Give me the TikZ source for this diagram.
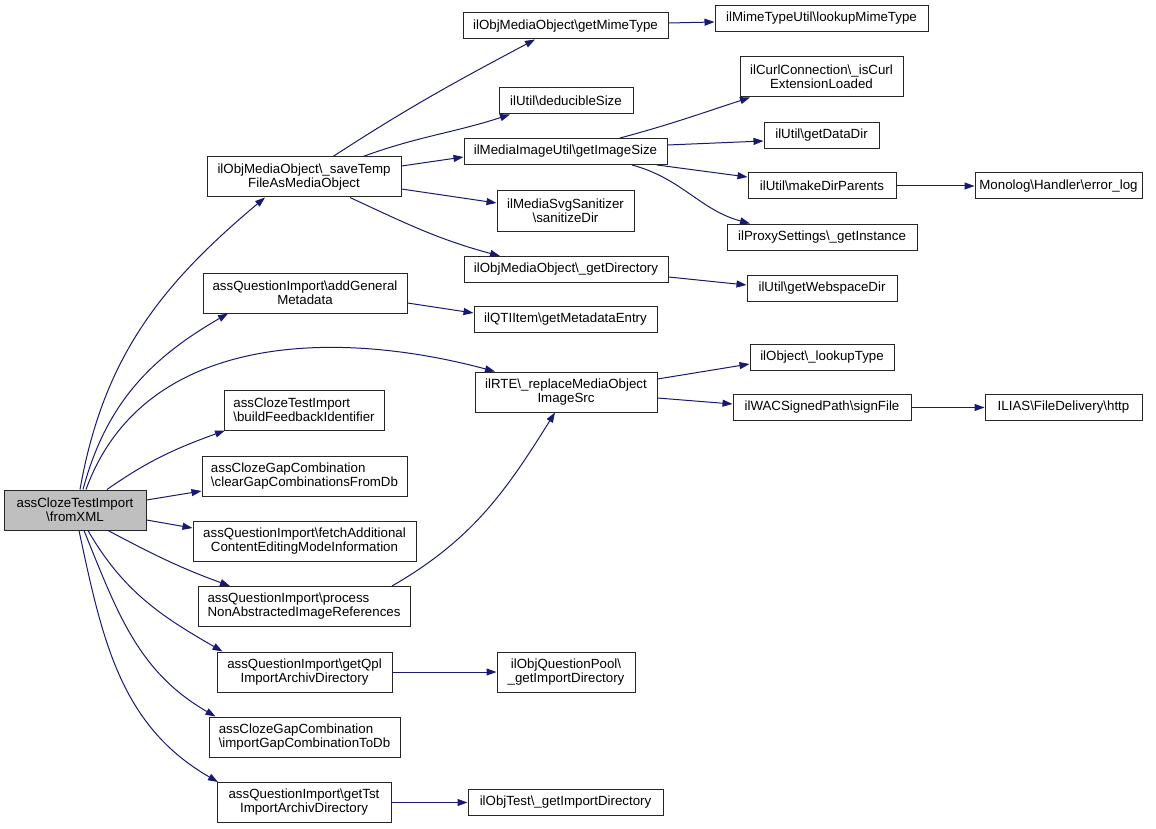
\documentclass[tikz,border=0pt]{standalone}
\usepackage{fontspec}
\setmainfont{Liberation Sans}
\usetikzlibrary{arrows.meta}
\definecolor{navy}{HTML}{191970}
\definecolor{rootgray}{HTML}{BFBFBF}
\begin{document}
\begin{tikzpicture}[x=1pt,y=1pt,
  box/.style={draw=black!85, line width=1pt, rectangle, inner sep=0pt, fill=white,
    font=\fontsize{13.3}{14}\selectfont, align=center},
  one/.style={box, minimum height=26pt, minimum width=#1},
  two/.style={box, minimum height=40pt, minimum width=#1},
  callarrow/.style={draw=navy, line width=1pt, -{Triangle[length=10pt,width=7pt]}}]
\useasboundingbox[fill=white] (0,0) rectangle (1156,-829);
% column 0
\node[two=142pt, fill=rootgray] (fromXML) at (75,-510) {assClozeTestImport\\\textbackslash fromXML};
% column 1
\node[two=194pt] (saveTemp) at (304,-177) {ilObjMediaObject\textbackslash\_saveTemp\\FileAsMediaObject};
\node[two=204pt] (addGeneral) at (305,-293) {assQuestionImport\textbackslash addGeneral\\Metadata};
\node[two=160pt, align=left] (buildFeedback) at (304,-410) {assClozeTestImport\\\textbackslash buildFeedbackIdentifier};
\node[two=205pt, align=left] (clearGap) at (304.5,-476) {assClozeGapCombination\\\textbackslash clearGapCombinationsFromDb};
\node[two=223pt] (fetch) at (304.5,-541) {assQuestionImport\textbackslash fetchAdditional\\ContentEditingModeInformation};
\node[two=212pt, align=left] (process) at (304,-606.5) {assQuestionImport\textbackslash process\\NonAbstractedImageReferences};
\node[two=175pt] (getQpl) at (304.5,-672) {assQuestionImport\textbackslash getQpl\\ImportArchivDirectory};
\node[two=191pt, align=left] (importGap) at (304.5,-737) {assClozeGapCombination\\\textbackslash importGapCombinationToDb};
\node[two=174pt] (getTst) at (304,-802.5) {assQuestionImport\textbackslash getTst\\ImportArchivDirectory};
% column 2
\node[one=205pt] (getMime) at (565.5,-26) {ilObjMediaObject\textbackslash getMimeType};
\node[one=134pt] (deducible) at (566,-101) {ilUtil\textbackslash deducibleSize};
\node[one=203pt] (imgSize) at (565.5,-151.5) {ilMediaImageUtil\textbackslash getImageSize};
\node[two=137pt] (sanitize) at (565.5,-211) {ilMediaSvgSanitizer\\\textbackslash sanitizeDir};
\node[one=204pt] (getDir) at (566,-269.5) {ilObjMediaObject\textbackslash\_getDirectory};
\node[one=183pt] (qti) at (565.5,-319.5) {ilQTIItem\textbackslash getMetadataEntry};
\node[two=182pt] (rte) at (566,-392) {ilRTE\textbackslash\_replaceMediaObject\\ImageSrc};
\node[two=138pt] (qpool) at (566,-672) {ilObjQuestionPool\textbackslash\\\_getImportDirectory};
\node[one=195pt] (objTest) at (565.5,-802.5) {ilObjTest\textbackslash\_getImportDirectory};
% column 3
\node[one=213pt] (lookupMime) at (821.5,-18.5) {ilMimeTypeUtil\textbackslash lookupMimeType};
\node[two=163pt] (isCurl) at (821.5,-77) {ilCurlConnection\textbackslash\_isCurl\\ExtensionLoaded};
\node[one=115pt] (dataDir) at (821.5,-135.5) {ilUtil\textbackslash getDataDir};
\node[one=148pt] (makeDir) at (822,-186) {ilUtil\textbackslash makeDirParents};
\node[one=190pt] (proxy) at (822,-237) {ilProxySettings\textbackslash\_getInstance};
\node[one=150pt] (webspace) at (822,-288) {ilUtil\textbackslash getWebspaceDir};
\node[one=144pt] (lookupType) at (822,-357.5) {ilObject\textbackslash\_lookupType};
\node[one=178pt] (signFile) at (822,-407.5) {ilWACSignedPath\textbackslash signFile};
% column 4
\node[one=167pt] (errorLog) at (1058.5,-186) {Monolog\textbackslash Handler\textbackslash error\_log};
\node[one=157pt] (http) at (1063.5,-407.5) {ILIAS\textbackslash FileDelivery\textbackslash http};
% edges from root
\draw[callarrow] ([xshift=5pt]fromXML.north) to[out=80,in=220] ([xshift=-39pt]saveTemp.south);
\draw[callarrow] ([xshift=8pt]fromXML.north) to[out=75,in=210] ([xshift=-77pt]addGeneral.south);
\draw[callarrow] ([xshift=11pt]fromXML.north) to[out=70,in=165] ([xshift=-71pt]rte.north);
\draw[callarrow] ([xshift=32pt]fromXML.north) to[out=35,in=200] ([xshift=-79pt]buildFeedback.south);
\draw[callarrow] ([yshift=10pt]fromXML.east) -- ([yshift=-15pt]clearGap.west);
\draw[callarrow] ([yshift=-10pt]fromXML.east) -- ([yshift=13pt]fetch.west);
\draw[callarrow] ([xshift=33pt]fromXML.south) to[out=-28,in=160] ([xshift=-74pt]process.north);
\draw[callarrow] ([xshift=13pt]fromXML.south) to[out=-60,in=150] ([xshift=-82pt]getQpl.north);
\draw[callarrow] ([xshift=9pt]fromXML.south) to[out=-68,in=150] ([xshift=-89pt]importGap.north);
\draw[callarrow] ([xshift=4pt]fromXML.south) to[out=-78,in=150] ([xshift=-86pt]getTst.north);
% column 1 edges
\draw[callarrow] ([xshift=88pt]process.north) to[out=30,in=238] ([xshift=-11pt]rte.south);
\draw[callarrow] ([xshift=29pt]saveTemp.north) to[out=33,in=208] ([xshift=-30.5pt]getMime.south);
\draw[callarrow] ([xshift=59pt]saveTemp.north) to[out=20,in=198] ([xshift=-56pt]deducible.south);
\draw[callarrow] ([yshift=11pt]saveTemp.east) -- ([yshift=-5.5pt]imgSize.west);
\draw[callarrow] ([yshift=-12pt]saveTemp.east) -- ([yshift=8pt]sanitize.west);
\draw[callarrow] ([xshift=46pt]saveTemp.south) to[out=-25,in=165] ([xshift=-66pt]getDir.north);
\draw[callarrow] ([yshift=-10pt]addGeneral.east) -- ([yshift=6.5pt]qti.west);
\draw[callarrow] (getQpl) -- (qpool);
\draw[callarrow] (getTst.east) -- (objTest.west);
% column 2 edges
\draw[callarrow] ([yshift=3pt]getMime.east) -- ([yshift=-3.5pt]lookupMime.west);
\draw[callarrow] ([xshift=54.5pt]imgSize.north) to[out=15,in=198] ([xshift=-71.5pt]isCurl.south);
\draw[callarrow] ([yshift=6.5pt]imgSize.east) -- ([yshift=-5.5pt]dataDir.west);
\draw[callarrow] ([xshift=91.5pt]imgSize.south) -- ([yshift=9pt]makeDir.west);
\draw[callarrow] ([xshift=66.5pt]imgSize.south) to[out=-15,in=165] ([xshift=-72pt]proxy.north);
\draw[callarrow] ([yshift=-7.5pt]getDir.east) -- ([yshift=3pt]webspace.west);
\draw[callarrow] ([yshift=13pt]rte.east) -- ([yshift=-6.5pt]lookupType.west);
\draw[callarrow] ([yshift=-6pt]rte.east) -- ([yshift=3.5pt]signFile.west);
% column 3 edges
\draw[callarrow] (makeDir) -- (errorLog);
\draw[callarrow] (signFile) -- (http);
\end{tikzpicture}
\end{document}
